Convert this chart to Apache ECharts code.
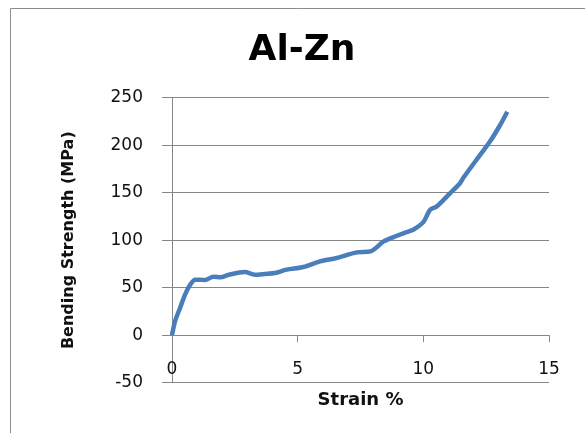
<!DOCTYPE html>
<html>
<head>
<meta charset="utf-8">
<script src="https://cdn.jsdelivr.net/npm/echarts@6/dist/echarts.min.js"></script>
<style>
html,body{margin:0;padding:0;background:#fff;}
#c{width:585px;height:433px;}
</style>
</head>
<body>
<div id="c"></div>
<script>
var strain = [0, 0.12, 0.32, 0.52, 0.72, 0.92, 1.11, 1.31, 1.65, 1.93, 2.26, 2.9, 3.3, 3.7, 4.1, 4.56, 5.23, 5.89, 6.55, 7.35, 7.9, 8.42, 8.95, 9.34, 9.6, 10.0, 10.27, 10.53, 11.07, 11.46, 11.6, 12.26, 12.65, 13.05, 13.34];
var strength = [0, 14.6, 28.7, 42.7, 53, 58.5, 58.5, 58, 61.6, 61, 63.7, 66.5, 63.7, 64.5, 65.5, 69, 71.8, 77.7, 81.3, 87.2, 88.3, 98.7, 104.7, 108.6, 111, 119, 132, 135.5, 149.6, 160, 166, 189.8, 203.8, 221, 235.3];
var xTicks = [0, 5, 10, 15];
var yTicks = [-50, 0, 50, 100, 150, 200, 250];

var pts = strain.map(function (x, i) { return [x, strength[i]]; });
var chart = echarts.init(document.getElementById('c'));
var grey = '#878787';
chart.setOption({
  animation: false,
  title: {
    text: 'Al-Zn', left: 297, top: 28, textAlign: 'center',
    textStyle: { fontFamily: 'DejaVu Sans', fontWeight: 'bold', fontSize: 36, color: '#000' }
  },
  grid: { left: 172, right: 36, top: 97.7, bottom: 50.3, containLabel: false, outerBoundsMode: 'none' },
  xAxis: {
    type: 'value', min: xTicks[0], max: xTicks[xTicks.length - 1], interval: 5,
    axisLine: { onZero: true, lineStyle: { color: grey, width: 1 } },
    axisTick: { show: true, length: 7, lineStyle: { color: grey } },
    axisLabel: { margin: -22, fontFamily: 'DejaVu Sans', fontSize: 17, color: '#111' },
    splitLine: { show: false },
    name: 'Strain %', nameLocation: 'middle', nameGap: 9, nameMoveOverlap: false,
    nameTextStyle: { fontFamily: 'DejaVu Sans', fontWeight: 'bold', fontSize: 18, color: '#111' }
  },
  yAxis: {
    type: 'value', min: yTicks[0], max: yTicks[yTicks.length - 1], interval: 50,
    axisLine: { show: true, onZero: false, lineStyle: { color: grey, width: 1 } },
    axisTick: { show: true, length: 10, lineStyle: { color: grey } },
    axisLabel: { margin: 29, fontFamily: 'DejaVu Sans', fontSize: 17, color: '#111' },
    splitLine: { show: true, lineStyle: { color: grey, width: 1 } },
    name: 'Bending Strength (MPa)', nameLocation: 'middle', nameRotate: 90, nameGap: 95,
    nameTextStyle: { fontFamily: 'DejaVu Sans', fontWeight: 'bold', fontSize: 16, color: '#111' }
  },
  graphic: [{
    type: 'polyline', silent: true,
    shape: { points: [[10.5, 433], [10.5, 8.5], [585, 8.5]] },
    style: { stroke: '#8c8c8c', lineWidth: 1, fill: null }
  }],
  series: [{
    type: 'line', data: pts, showSymbol: false, smooth: 0.3,
    lineStyle: { color: '#4a7ebb', width: 4.5 }
  }]
});
</script>
</body>
</html>
